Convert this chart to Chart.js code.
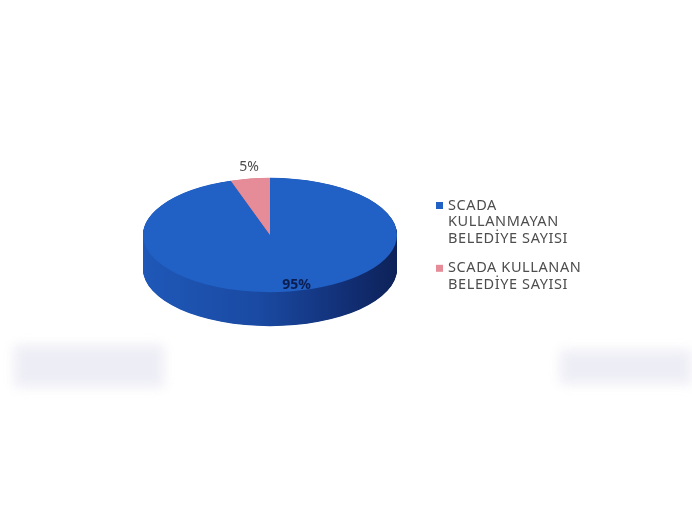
<!DOCTYPE html>
<html>
<head>
<meta charset="utf-8">
<script src="https://cdn.jsdelivr.net/npm/chart.js@4/dist/chart.umd.min.js"></script>
<style>
  html, body { margin: 0; padding: 0; background: #fff; }
  #wrap { width: 692px; height: 523px; position: relative; background: #fff; }
  .smudge { position: absolute; background: #e9e9f3; filter: blur(6px); opacity: 0.8; }
  canvas { position: absolute; left: 0; top: 0; }
</style>
</head>
<body>
<div id="wrap">
  <div class="smudge" style="left:14px; top:345px; width:150px; height:42px;"></div>
  <div class="smudge" style="left:560px; top:350px; width:132px; height:34px;"></div>
  <canvas id="myChart" width="692" height="523"></canvas>
</div>
<script>
// chart data
var labels = [['SCADA', 'KULLANMAYAN', 'BELEDİYE SAYISI'], ['SCADA KULLANAN', 'BELEDİYE SAYISI']];
var values = [95, 5];
var topColors = ['#2160c4', '#e58c98'];
var sideColors = ['#173f8f', '#a85763'];

var tiltK = 0.45;   // vertical squash of the pie
var depth = 34;     // thickness of the 3d side

function arcPath(ctx, a, dy) {
  ctx.beginPath();
  ctx.moveTo(a.x, a.y + dy);
  ctx.arc(a.x, a.y + dy, a.outerRadius, a.startAngle, a.endAngle);
  ctx.closePath();
}

var pie3d = {
  id: 'pie3d',
  beforeDatasetsDraw: function(chart) {
    var ctx = chart.ctx;
    var arcs = chart.getDatasetMeta(0).data;
    var cx = arcs[0].x, cy = arcs[0].y, r = arcs[0].outerRadius;
    ctx.save();
    ctx.translate(cx, cy);
    ctx.scale(1, tiltK);
    ctx.translate(-cx, -cy);
    // side of the pie, stacked layers
    var g = ctx.createLinearGradient(cx - r, 0, cx + r, 0);
    g.addColorStop(0, '#1f58b8');
    g.addColorStop(0.45, '#1a4aa3');
    g.addColorStop(0.8, '#122f75');
    g.addColorStop(1, '#0d2258');
    for (var d = depth / tiltK; d > 0; d -= 1) {
      arcs.forEach(function(a, i) {
        arcPath(ctx, a, d);
        ctx.fillStyle = i == 0 ? g : sideColors[i];
        ctx.fill();
      });
    }
  },
  afterDatasetsDraw: function(chart) {
    var ctx = chart.ctx;
    var arcs = chart.getDatasetMeta(0).data;
    ctx.restore();
    var total = values.reduce(function(s, v) { return s + v; }, 0);
    arcs.forEach(function(a, i) {
      var mid = (a.startAngle + a.endAngle) / 2;
      var f = i == 0 ? 0.88 : 1.2;
      var x = a.x + Math.cos(mid) * a.outerRadius * f + (i == 0 ? 9 : 3);
      var y = a.y + Math.sin(mid) * a.outerRadius * f * tiltK;
      ctx.save();
      ctx.textAlign = 'center';
      ctx.textBaseline = 'middle';
      ctx.font = i == 0 ? 'bold 14px "Noto Sans"' : '14px "Noto Sans"';
      ctx.fillStyle = i == 0 ? '#0b1e52' : '#4d4d4d';
      ctx.fillText(Math.round(values[i] / total * 100) + '%', x, y);
      ctx.restore();
    });
  },
  afterDraw: function(chart) {
    // legend on the right
    var ctx = chart.ctx;
    var x = 436, y = 205.5, lh = 16.6;
    ctx.save();
    ctx.font = '14.5px "Noto Sans"';
    ctx.letterSpacing = '0.6px';
    ctx.textBaseline = 'middle';
    labels.forEach(function(lines, i) {
      ctx.fillStyle = topColors[i];
      ctx.fillRect(x, y - 3.5, 7, 7);
      ctx.fillStyle = '#4d4d4d';
      lines.forEach(function(t, j) {
        ctx.fillText(t, x + 12, y + j * lh);
      });
      y += lines.length * lh + 13;
    });
    ctx.restore();
  }
};

var ctx = document.getElementById('myChart').getContext('2d');
var chart = new Chart(ctx, {
  type: 'pie',
  data: {
    labels: labels,
    datasets: [{
      data: values,
      backgroundColor: topColors,
      borderWidth: 0
    }]
  },
  options: {
    responsive: false,
    animation: false,
    layout: { padding: { left: 143, right: 295, top: 108, bottom: 161 } },
    plugins: {
      legend: { display: false },
      tooltip: { enabled: false }
    }
  },
  plugins: [pie3d]
});
</script>
</body>
</html>
